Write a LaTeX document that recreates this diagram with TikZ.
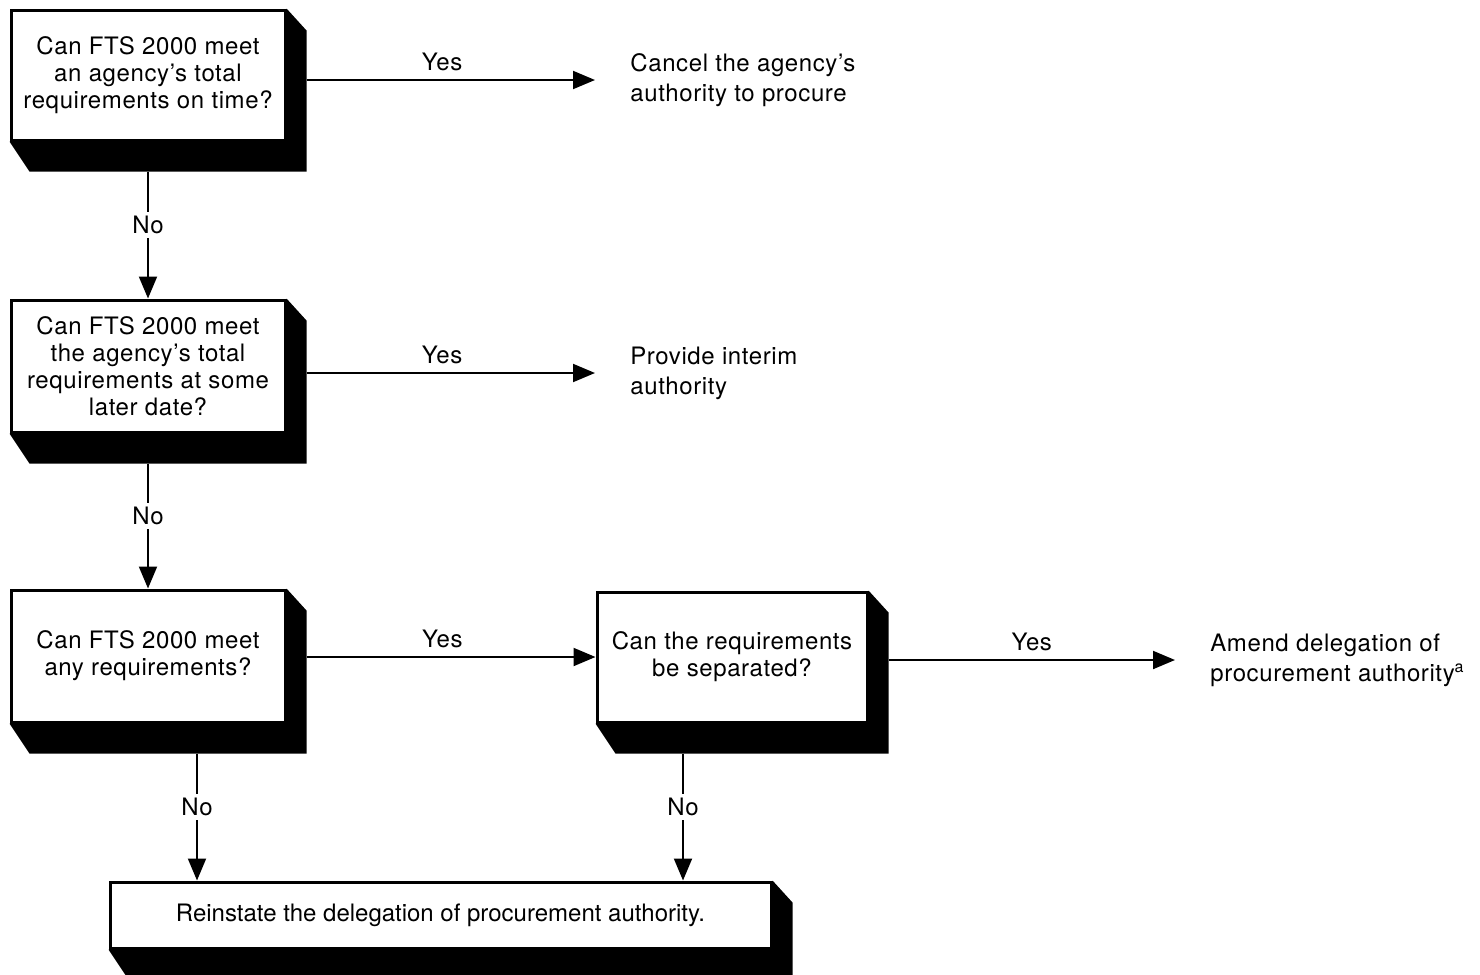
\documentclass[tikz,border=0pt]{standalone}
\usepackage{fontspec}
\setmainfont[LetterSpace=2.5]{TeX Gyre Heros}
\newfontfamily\plainfont{TeX Gyre Heros}
\usetikzlibrary{arrows.meta}

\tikzset{
  question/.style={draw, line width=1.5pt, fill=white, align=center, inner sep=0pt,
    minimum width=137pt, minimum height=65pt, font=\fontsize{12}{13.5}\selectfont},
  outcome/.style={anchor=west, align=left, inner xsep=17.5pt, inner ysep=0pt,
    font=\fontsize{12}{15}\selectfont},
  arr/.style={line width=1pt, -{Triangle[length=11pt,width=9pt]}},
  yes/.style={above, inner sep=4pt, font=\fontsize{12}{13.5}\selectfont},
  no/.style={fill=white, inner sep=2pt, font=\fontsize{12}{13.5}\selectfont},
}

\begin{document}
\begin{tikzpicture}[x=0.5pt, y=-0.5pt]
  \useasboundingbox (0,0) rectangle (1480,975);

  % questions
  \node[question] (q1) at (148,75) {Can FTS 2000 meet\\an agency's total\\requirements on time?};
  \node[question, minimum height=66pt] (q2) at (148,366) {Can FTS 2000 meet\\the agency's total\\requirements at some\\later date?};
  \node[question, minimum height=66pt] (q3) at (148,656) {Can FTS 2000 meet\\any requirements?};
  \node[question, minimum width=135pt] (q4) at (732,657) {Can the requirements\\be separated?};
  \node[question, minimum width=330.5pt, minimum height=33pt, font=\plainfont\fontsize{12}{13.5}\selectfont] (r) at (440.5,915) {Reinstate the delegation of procurement authority.};

  % shadows
  \foreach \b in {q1,q2,q3,q4,r}
    \fill (\b.south west) -- ++(20,30) -- ([shift={(20,30)}]\b.south east)
      -- ([shift={(20,22)}]\b.north east) -- (\b.north east) -- (\b.south east) -- cycle;

  % outcomes
  \node[outcome] (o1) at (595,80) {Cancel the agency's\\authority to procure};
  \node[outcome] (o2) at (595,373) {Provide interim\\authority};
  \node[outcome] (o3) at (1175,660) {Amend delegation of\\procurement authority\textsuperscript{a}};

  % yes
  \draw[arr] ([xshift=10pt]q1.east |- o1.west) -- (o1.west) node[pos=0.47,yes] {Yes};
  \draw[arr] ([xshift=10pt]q2.east |- o2.west) -- (o2.west) node[pos=0.47,yes] {Yes};
  \draw[arr] ([xshift=10pt]q3.east |- q4.west) -- (q4.west) node[pos=0.47,yes] {Yes};
  \draw[arr] ([xshift=10pt]q4.east |- o3.west) -- (o3.west) node[midway,yes] {Yes};

  % no
  \draw[arr] ([yshift=-15pt]q1.south) -- (q2.north) node[pos=0.42,no] {No};
  \draw[arr] ([yshift=-15pt]q2.south) -- (q3.north) node[pos=0.42,no] {No};
  \coordinate (n3) at ([shift={(49,30)}]q3.south);
  \coordinate (n4) at ([shift={(-49,30)}]q4.south);
  \draw[arr] (n3) -- (n3 |- r.north) node[pos=0.42,no] {No};
  \draw[arr] (n4) -- (n4 |- r.north) node[pos=0.42,no] {No};
\end{tikzpicture}
\end{document}
